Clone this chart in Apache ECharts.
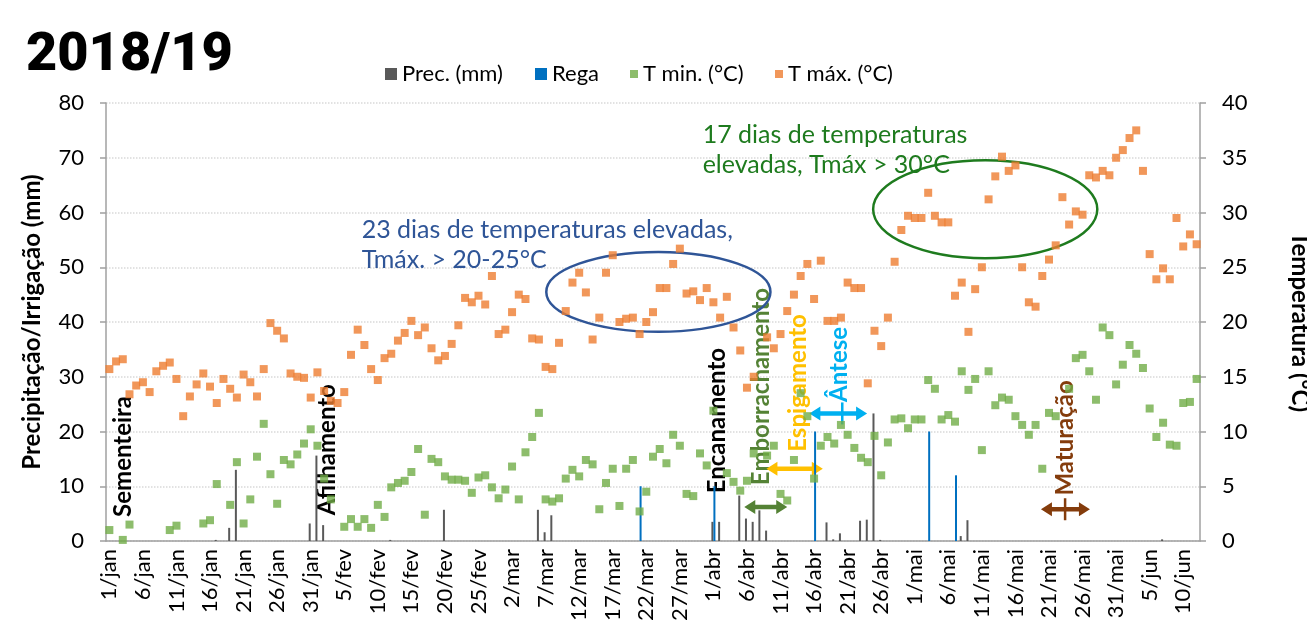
<!DOCTYPE html>
<html>
<head>
<meta charset="utf-8">
<script src="https://cdn.jsdelivr.net/npm/echarts@6/dist/echarts.min.js"></script>
<style>
    html, body { margin: 0; padding: 0; background: #fff; }
    #main { width: 1307px; height: 631px; }
</style>
</head>
<body>
<div id="main"></div>
<script>
// eixo x: dias de 1/jan a 12/jun
var months = ['jan', 'fev', 'mar', 'abr', 'mai', 'jun'];
var monthDays = [31, 28, 31, 30, 31, 12];
var dates = [];
for (var m = 0; m < months.length; m++) {
    for (var d = 1; d <= monthDays[m]; d++) {
        dates.push(d + '/' + months[m]);
    }
}

// temperatura maxima (°C)
var tmax = [
    15.7, 16.4, 16.6, 13.4, 14.2, 14.5, 13.6, 15.5, 16.0, 16.3,
    14.8, 11.4, 13.2, 14.3, 15.3, 14.1, 12.6, 14.8, 13.9, 13.1,
    15.2, 14.5, 13.2, 15.7, 19.9, 19.2, 18.5, 15.3, 15.0, 14.9,
    13.1, 15.4, 13.7, 12.8, 12.6, 13.6, 17.0, 19.3, 17.9, 15.7,
    14.7, 16.7, 17.1, 18.3, 19.0, 20.1, 18.8, 19.5, 17.6, 16.5,
    16.9, 18.0, 19.7, 22.2, 21.8, 22.4, 21.6, 24.2, 18.9, 19.3,
    20.9, 22.5, 22.1, 18.5, 18.4, 15.9, 15.7, 18.1, 21.0, 23.6,
    24.5, 22.7, 18.4, 20.4, 24.5, 26.1, 20.0, 20.3, 20.4, 18.9,
    20.0, 20.9, 23.1, 23.1, 25.3, 26.7, 22.6, 22.8, 22.0, 23.1,
    21.8, 20.4, 22.3, 19.5, 17.4, 14.0, 15.0, null, 18.6, 17.6,
    18.9, 21.0, 22.5, 24.2, 25.3, 22.1, 25.6, 20.1, 20.1, 20.4,
    23.6, 23.1, 23.1, 14.4, 19.2, 17.8, 20.4, 25.5, 28.4, 29.7,
    29.5, 29.5, 31.8, 29.7, 29.1, 29.1, 22.4, 23.6, 19.1, 23.0,
    25.0, 31.2, 33.3, 35.1, 33.8, 34.3, 25.0, 21.8, 21.4, 24.2,
    25.7, 27.0, 31.4, 28.9, 30.1, 29.8, 33.4, 33.2, 33.8, 33.4,
    35.0, 35.7, 36.8, 37.5, 33.8, 26.2, 23.9, 24.9, 23.9, 29.5,
    26.9, 28.0, 27.1
];

// temperatura minima (°C), null = abaixo de 0 / escondido
var tmin = [
    1.0, null, 0.1, 1.5, null, null, null, null, null, 1.0,
    1.4, null, null, null, 1.6, 1.9, 5.2, null, 3.3, 7.2,
    1.6, 3.8, 7.7, 10.7, 6.1, 3.4, 7.4, 7.0, 7.9, 8.9,
    10.2, 8.7, 5.7, 3.8, null, 1.3, 2.0, 1.3, 2.0, 1.2,
    3.3, 2.2, 4.9, 5.3, 5.5, 6.3, 8.4, 2.4, 7.5, 7.2,
    5.9, 5.6, 5.6, 5.5, 4.4, 5.8, 6.0, 4.9, 3.9, 4.7,
    6.8, 3.8, 8.1, 9.5, 11.7, 3.8, 3.6, 3.9, 5.7, 6.5,
    5.9, 7.4, 7.0, 2.9, 5.3, 6.6, 3.2, 6.6, 7.4, 2.7,
    4.5, 7.7, 8.4, 7.1, 9.7, 8.7, 4.3, 4.1, 8.0, 6.9,
    11.9, null, 6.2, 5.4, 4.6, 5.5, 8.0, null, 7.8, 8.7,
    4.3, 3.7, 7.4, 13.5, 11.4, 5.7, 8.7, 9.5, 8.9, 10.6,
    9.7, 8.5, 7.6, 7.2, 9.6, 6.0, 9.0, 11.1, 11.2, 10.3,
    11.1, 11.1, 14.7, 13.9, 11.1, 11.5, 10.9, 15.5, 13.8, 14.8,
    8.3, 15.5, 12.4, 13.1, 12.9, 11.4, 10.6, 9.7, 10.6, 6.6,
    11.7, 11.4, null, 13.9, 16.7, 17.0, 15.5, 12.9, 19.5, 18.8,
    14.3, 16.1, 17.9, 17.1, 15.8, 12.1, 9.5, 10.8, 8.8, 8.7,
    12.6, 12.7, 14.8
];

// precipitacao (mm): dia (indice) e valor
var precDay = [16, 18, 19, 30, 31, 32, 42, 50, 64, 65, 66, 90, 91, 94, 95, 96, 97, 98, 107, 108, 109, 112, 113, 114, 115, 127, 128, 157];
var precMm = [0.2, 2.4, 13.0, 3.2, 15.6, 2.9, 0.2, 5.7, 5.7, 1.6, 4.7, 3.5, 3.5, 8.3, 4.1, 3.5, 5.6, 1.9, 3.4, 0.3, 1.4, 3.7, 3.9, 23.3, 0.2, 0.9, 3.8, 0.3];

// rega (mm)
var regaDay = [79, 90, 105, 122, 126];
var regaMm = [10, 10, 20, 20, 12];

// fases (texto vertical): posicao em dias / mm
var stageNames = ['Sementeira', 'Afilhamento', 'Encanamento', 'Emborrachamento', 'Espigamento', 'Ântese', 'Maturação'];
var stageDay = [2.0, 32.4, 90.6, 97.2, 102.6, 108.8, 142.4];
var stageMm = [4.4, 4.7, 8.7, 10.2, 16.3, 25.4, 8.3];
var stageColor = ['#000000', '#000000', '#000000', '#548235', '#FFC000', '#00B0F0', '#843C0C'];

var font = 'Lato';

var chart = echarts.init(document.getElementById('main'));

function legendItem(name, left, size) {
    return {
        data: [name], left: left, top: 58, icon: 'rect',
        itemWidth: size, itemHeight: size,
        textStyle: { fontFamily: font, fontSize: 22, color: '#000' }
    };
}

var option = {
    animation: false,
    textStyle: { fontFamily: font },
    legend: [
        legendItem('Prec. (mm)', 380, 12),
        legendItem('Rega', 530, 12),
        legendItem('T min. (°C)', 625, 8),
        legendItem('T máx. (°C)', 770, 8)
    ],
    grid: { left: 106, right: 107, top: 103, bottom: 90, containLabel: false, outerBoundsMode: 'none' },
    xAxis: {
        type: 'category',
        data: dates,
        boundaryGap: true,
        axisLine: { lineStyle: { color: '#A0A0A0', width: 1.5 } },
        axisTick: { interval: 4, length: 6, lineStyle: { color: '#A0A0A0', width: 1.5 } },
        axisLabel: { interval: 4, rotate: 90, margin: 8, fontSize: 22, color: '#000', fontFamily: font }
    },
    yAxis: [{
        type: 'value', min: 0, max: 80, interval: 10, position: 'left',
        name: 'Precipitação/Irrigação (mm)', nameLocation: 'middle', nameGap: 62, nameRotate: 90,
        nameTextStyle: { fontFamily: font, fontSize: 24, fontWeight: 'bold', color: '#000' },
        axisLine: { show: true, lineStyle: { color: '#A0A0A0', width: 1.5 } },
        axisTick: { show: true, length: 6, lineStyle: { color: '#A0A0A0', width: 1.5 } },
        axisLabel: { margin: 22, fontSize: 22, color: '#000', fontFamily: font },
        splitLine: { lineStyle: { color: '#D9D9D9', type: 'dotted', width: 1.5 } }
    }, {
        type: 'value', min: 0, max: 40, interval: 5, position: 'right',
        name: 'Temperatura (°C)', nameLocation: 'middle', nameGap: 88, nameRotate: -90,
        nameTextStyle: { fontFamily: font, fontSize: 24, fontWeight: 'bold', color: '#000' },
        axisLine: { show: true, lineStyle: { color: '#A0A0A0', width: 1.5 } },
        axisTick: { show: true, length: 6, lineStyle: { color: '#A0A0A0', width: 1.5 } },
        axisLabel: { margin: 22, fontSize: 22, color: '#000', fontFamily: font },
        splitLine: { show: false }
    }],
    series: [{
        name: 'Prec. (mm)',
        type: 'bar',
        barWidth: 2,
        barGap: '0%',
        itemStyle: { color: '#595959' },
        data: precDay.map(function (d, i) { return [d, precMm[i]]; })
    }, {
        name: 'Rega',
        type: 'bar',
        barWidth: 2,
        itemStyle: { color: '#0070C0' },
        data: regaDay.map(function (d, i) { return [d, regaMm[i]]; })
    }, {
        name: 'T min. (°C)',
        type: 'scatter',
        yAxisIndex: 1,
        symbol: 'rect',
        symbolSize: 8,
        itemStyle: { color: '#70AD47' },
        data: tmin
    }, {
        name: 'T máx. (°C)',
        type: 'scatter',
        yAxisIndex: 1,
        symbol: 'rect',
        symbolSize: 8,
        itemStyle: { color: '#ED7D31' },
        data: tmax
    }]
};
chart.setOption(option);

// anotacoes posicionadas pelas escalas do grafico
var c0 = chart.convertToPixel({ xAxisIndex: 0 }, 0);
var c1 = chart.convertToPixel({ xAxisIndex: 0 }, dates.length - 1);
var step = (c1 - c0) / (dates.length - 1);
function px(day) { return c0 + step * day; }
function py(mm) { return chart.convertToPixel({ yAxisIndex: 0 }, mm); }

function doubleArrow(d1, d2, mm, color) {
    var x1 = px(d1), x2 = px(d2), y = py(mm);
    var h = 11, a = 7, t = 2.2;
    return {
        type: 'polygon',
        shape: {
            points: [[x1, y], [x1 + h, y - a], [x1 + h, y - t], [x2 - h, y - t], [x2 - h, y - a],
                [x2, y], [x2 - h, y + a], [x2 - h, y + t], [x1 + h, y + t], [x1 + h, y + a]]
        },
        style: { fill: color }
    };
}

function vbar(day, mm, color) {
    var x = px(day), y = py(mm);
    return { type: 'line', shape: { x1: x, y1: y - 11, x2: x, y2: y + 11 }, style: { stroke: color, lineWidth: 2.5 } };
}

function label(text, day, mm, color, size) {
    return {
        type: 'text', x: px(day), y: py(mm),
        style: { text: text, fill: color, fontSize: size, fontFamily: font, align: 'left', verticalAlign: 'middle' }
    };
}

var graphics = [{
    type: 'text', left: 26, top: 29,
    style: { text: '2018/19', fill: '#000', fontSize: 54, fontWeight: 900, fontFamily: 'Roboto' }
}];

stageNames.forEach(function (name, i) {
    graphics.push({
        type: 'text', x: px(stageDay[i]), y: py(stageMm[i]), rotation: Math.PI / 2,
        style: { text: name, fill: stageColor[i], fontSize: 24, fontWeight: 'bold', fontFamily: font, align: 'left', verticalAlign: 'middle' }
    });
});

graphics.push(doubleArrow(94.6, 101.0, 6.2, '#548235'));
graphics.push(doubleArrow(97.9, 106.3, 13.2, '#FFC000'));
graphics.push(doubleArrow(104.3, 112.9, 23.3, '#00B0F0'));
graphics.push(vbar(109.2, 23.3, '#00B0F0'));
graphics.push(doubleArrow(138.8, 146.1, 5.8, '#843C0C'));
graphics.push(vbar(142.4, 5.8, '#843C0C'));

// elipses dos periodos quentes
graphics.push({
    type: 'ellipse',
    shape: { cx: px(81.8), cy: py(45.5), rx: step * 16.7, ry: py(0) - py(7.3) },
    style: { fill: 'none', stroke: '#2F5597', lineWidth: 2.5 }
});
graphics.push({
    type: 'ellipse',
    shape: { cx: px(130.5), cy: py(60.6), rx: step * 16.7, ry: py(0) - py(8.95) },
    style: { fill: 'none', stroke: '#1E7B1E', lineWidth: 2.5 }
});

graphics.push(label('23 dias de temperaturas elevadas,', 37.6, 56.9, '#2F5597', 25));
graphics.push(label('Tmáx. > 20-25°C', 37.6, 51.4, '#2F5597', 25));
graphics.push(label('17 dias de temperaturas', 88.4, 74.1, '#1E7B1E', 25));
graphics.push(label('elevadas, Tmáx > 30°C', 88.4, 68.6, '#1E7B1E', 25));

chart.setOption({ graphic: graphics });
</script>
</body>
</html>
